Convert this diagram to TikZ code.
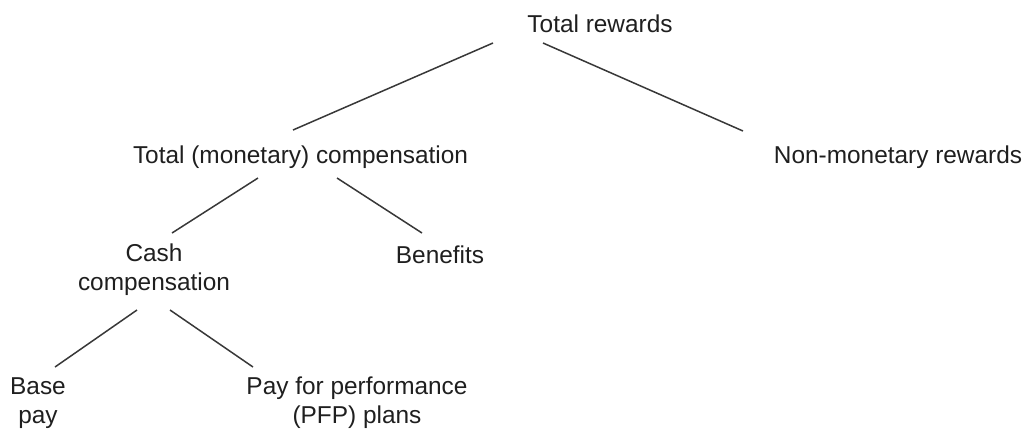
\documentclass[tikz,border=0pt]{standalone}
\usepackage{fontspec}
\setmainfont{Liberation Sans}
\usetikzlibrary{calc}

\begin{document}
\begin{tikzpicture}[x=0.5pt, y=-0.5pt,
	lbl/.style={anchor=base, inner sep=0pt, align=center, text=black!88,
		font=\fontsize{12.2}{14.5}\selectfont},
	link/.style={draw=black!78, line width=0.75pt}]
	\useasboundingbox (0,0) rectangle (1026,430);
	% levels of the tree, placed at their (last) baselines
	\node [lbl] (tr) at (600,32) {Total rewards};
	\node [lbl] (tmc) at (300.5,163) {Total (monetary) compensation};
	\node [lbl] (nmr) at (898,163) {Non-monetary rewards};
	\node [lbl] (cash) at (154,290) {Cash\\compensation};
	\node [lbl] (ben) at (440,263) {Benefits};
	\node [lbl] (bpay) at (38,423) {Base\\pay};
	\node [lbl] (pfp) at (357,423) {Pay for performance\\(PFP) plans};
	% branches
	\draw [link] ($(tr.base)+(-107,11)$) -- ($(tmc.base)+(-7.5,-33)$);
	\draw [link] ($(tr.base)+(-57,11)$) -- ($(nmr.base)+(-155,-32)$);
	\draw [link] ($(tmc.base)+(-42.5,15)$) -- ($(cash.base)+(18,-57)$);
	\draw [link] ($(tmc.base)+(36.5,15)$) -- ($(ben.base)+(-18,-30)$);
	\draw [link] ($(cash.base)+(-17,20)$) -- ($(bpay.base)+(17,-56)$);
	\draw [link] ($(cash.base)+(16,20)$) -- ($(pfp.base)+(-104,-56)$);
\end{tikzpicture}
\end{document}
